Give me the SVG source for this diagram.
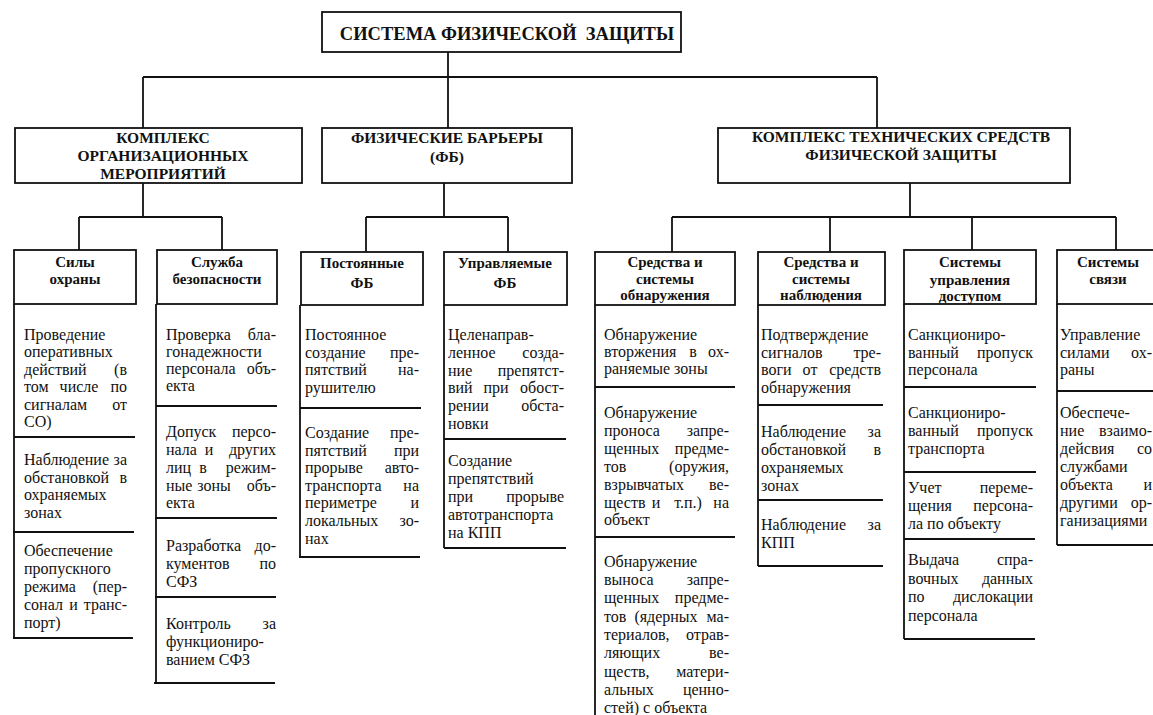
<svg xmlns="http://www.w3.org/2000/svg" width="1153" height="715" viewBox="0 0 1153 715">
<style>
.bx{fill:#fff;stroke:#111;stroke-width:1.8}
.ln{fill:none;stroke:#111;stroke-width:1.8}
.t1{font-family:"Liberation Serif",serif;font-weight:bold;font-size:18.5px;text-anchor:middle;white-space:pre;fill:#111}
.t2{font-family:"Liberation Serif",serif;font-weight:bold;font-size:15.5px;text-anchor:middle;fill:#111}
.t3{font-family:"Liberation Serif",serif;font-weight:bold;font-size:15px;text-anchor:middle;fill:#111}
.b{font-family:"Liberation Serif",serif;font-size:16px;fill:#111}
.e{text-anchor:end}
.m{text-anchor:middle}
</style>
<rect width="1153" height="715" fill="#fff"/>
<g id="connectors" class="ln">
<path d="M448 52V128M143 77H877M143 77V128M877 77V128"/>
<path d="M143 183V217M79 217H222M79 217V250M222 217V250"/>
<path d="M444 183V217M366 217H508M366 217V252M508 217V252"/>
<path d="M910 183V217M672 217H1116M672 217V252M830 217V252M972 217V250M1116 217V250"/>
</g>
<g id="root"><rect class="bx" x="322" y="12" width="359" height="40"/><text class="t1" x="507" y="40">СИСТЕМА ФИЗИЧЕСКОЙ  ЗАЩИТЫ</text></g>
<g id="org"><rect class="bx" x="15" y="128" width="287" height="55"/><text class="t2" x="163" y="143">КОМПЛЕКС</text><text class="t2" x="163" y="161">ОРГАНИЗАЦИОННЫХ</text><text class="t2" x="163" y="179">МЕРОПРИЯТИЙ</text></g>
<g id="fb"><rect class="bx" x="322" y="128" width="250" height="55"/><text class="t2" x="447" y="143">ФИЗИЧЕСКИЕ БАРЬЕРЫ</text><text class="t2" x="447" y="162">(ФБ)</text></g>
<g id="tech"><rect class="bx" x="718" y="128" width="352" height="55"/><text class="t2" x="901" y="142">КОМПЛЕКС ТЕХНИЧЕСКИХ СРЕДСТВ</text><text class="t2" x="901" y="160">ФИЗИЧЕСКОЙ ЗАЩИТЫ</text></g>

<g id="sily">
<rect class="bx" x="14" y="250" width="122" height="54"/>
<text class="t3" x="75" y="267">Силы</text><text class="t3" x="75" y="284">охраны</text>
<path class="ln" d="M14 304V638M14 437H135M13 532H134M13 638H133"/>
<text class="b" x="24" y="340">Проведение</text>
<text class="b" x="24" y="357.4">оперативных</text>
<text class="b" x="24" y="374.8">действий</text><text class="b e" x="127" y="374.8">(в</text>
<text class="b" x="24" y="392.2">том</text><text class="b m" x="79" y="392.2">числе</text><text class="b e" x="127" y="392.2">по</text>
<text class="b" x="24" y="409.6">сигналам</text><text class="b e" x="127" y="409.6">от</text>
<text class="b" x="24" y="427">СО)</text>
<text class="b" x="24" y="465">Наблюдение</text><text class="b e" x="127" y="465">за</text>
<text class="b" x="24" y="482.5">обстановкой</text><text class="b e" x="127" y="482.5">в</text>
<text class="b" x="24" y="500">охраняемых</text>
<text class="b" x="24" y="517.5">зонах</text>
<text class="b" x="24" y="556">Обеспечение</text>
<text class="b" x="24" y="574">пропускного</text>
<text class="b" x="24" y="592">режима</text><text class="b e" x="127" y="592">(пер-</text>
<text class="b" x="24" y="610">сонал</text><text class="b m" x="73.5" y="610">и</text><text class="b e" x="127" y="610">транс-</text>
<text class="b" x="24" y="628">порт)</text>
</g>

<g id="sluzhba">
<rect class="bx" x="157" y="250" width="120" height="54"/>
<text class="t3" x="217" y="267">Служба</text><text class="t3" x="217" y="284">безопасности</text>
<path class="ln" d="M156 304V683M156 406H277M155 518H277M155 597H276M154 683H275"/>
<text class="b" x="166" y="340">Проверка</text><text class="b e" x="276" y="340">бла-</text>
<text class="b" x="166" y="357">гонадежности</text>
<text class="b" x="166" y="374">персонала</text><text class="b e" x="276" y="374">объ-</text>
<text class="b" x="166" y="391">екта</text>
<text class="b" x="166" y="437">Допуск</text><text class="b e" x="276" y="437">персо-</text>
<text class="b" x="166" y="455">нала</text><text class="b m" x="209" y="455">и</text><text class="b e" x="276" y="455">других</text>
<text class="b" x="166" y="473">лиц</text><text class="b m" x="203" y="473">в</text><text class="b e" x="276" y="473">режим-</text>
<text class="b" x="166" y="491">ные</text><text class="b m" x="214" y="491">зоны</text><text class="b e" x="276" y="491">объ-</text>
<text class="b" x="166" y="508">екта</text>
<text class="b" x="166" y="551">Разработка</text><text class="b e" x="276" y="551">до-</text>
<text class="b" x="166" y="569">кументов</text><text class="b e" x="276" y="569">по</text>
<text class="b" x="166" y="587">СФЗ</text>
<text class="b" x="166" y="629">Контроль</text><text class="b e" x="276" y="629">за</text>
<text class="b" x="166" y="647">функциониро-</text>
<text class="b" x="166" y="665">ванием СФЗ</text>
</g>

<g id="postoyannye">
<rect class="bx" x="301" y="252" width="122" height="53"/>
<text class="t3" x="362" y="268">Постоянные</text><text class="t3" x="362" y="288">ФБ</text>
<path class="ln" d="M300 305V557M300 408H421M299 557H420"/>
<text class="b" x="305" y="340">Постоянное</text>
<text class="b" x="305" y="357.5">создание</text><text class="b e" x="419" y="357.5">пре-</text>
<text class="b" x="305" y="375">пятствий</text><text class="b e" x="419" y="375">на-</text>
<text class="b" x="305" y="392.5">рушителю</text>
<text class="b" x="305" y="438">Создание</text><text class="b e" x="419" y="438">пре-</text>
<text class="b" x="305" y="456">пятствий</text><text class="b e" x="419" y="456">при</text>
<text class="b" x="305" y="473">прорыве</text><text class="b e" x="419" y="473">авто-</text>
<text class="b" x="305" y="491">транспорта</text><text class="b e" x="419" y="491">на</text>
<text class="b" x="305" y="508">периметре</text><text class="b e" x="419" y="508">и</text>
<text class="b" x="305" y="526">локальных</text><text class="b e" x="419" y="526">зо-</text>
<text class="b" x="305" y="544">нах</text>
</g>

<g id="upravlyaemye">
<rect class="bx" x="444" y="252" width="123" height="53"/>
<text class="t3" x="505" y="268">Управляемые</text><text class="t3" x="505" y="288">ФБ</text>
<path class="ln" d="M444 305V548M444 439H566M444 548H566"/>
<text class="b" x="448" y="340">Целенаправ-</text>
<text class="b" x="448" y="357.8">ленное</text><text class="b e" x="564" y="357.8">созда-</text>
<text class="b" x="448" y="375.6">ние</text><text class="b e" x="564" y="375.6">препятст-</text>
<text class="b" x="448" y="393.4">вий</text><text class="b m" x="496" y="393.4">при</text><text class="b e" x="564" y="393.4">обост-</text>
<text class="b" x="448" y="411.2">рении</text><text class="b e" x="564" y="411.2">обста-</text>
<text class="b" x="448" y="429">новки</text>
<text class="b" x="448" y="466">Создание</text>
<text class="b" x="448" y="484">препятствий</text>
<text class="b" x="448" y="502">при</text><text class="b e" x="564" y="502">прорыве</text>
<text class="b" x="448" y="520">автотранспорта</text>
<text class="b" x="448" y="538">на КПП</text>
</g>

<g id="obnaruzhenie">
<rect class="bx" x="595" y="252" width="140" height="53"/>
<text class="t3" x="665" y="267">Средства и</text><text class="t3" x="665" y="284">системы</text><text class="t3" x="665" y="300">обнаружения</text>
<path class="ln" d="M595 305V716M595 387H735M595 537H735"/>
<text class="b" x="604" y="340">Обнаружение</text>
<text class="b" x="604" y="357">вторжения</text><text class="b m" x="693" y="357">в</text><text class="b e" x="729" y="357">ох-</text>
<text class="b" x="604" y="374">раняемые зоны</text>
<text class="b" x="604" y="418">Обнаружение</text>
<text class="b" x="604" y="436">проноса</text><text class="b e" x="729" y="436">запре-</text>
<text class="b" x="604" y="454">щенных</text><text class="b e" x="729" y="454">предме-</text>
<text class="b" x="604" y="472">тов</text><text class="b e" x="729" y="472">(оружия,</text>
<text class="b" x="604" y="490">взрывчатых</text><text class="b e" x="729" y="490">ве-</text>
<text class="b" x="604" y="507.5">ществ</text><text class="b m" x="656" y="507.5">и</text><text class="b m" x="688" y="507.5">т.п.)</text><text class="b e" x="729" y="507.5">на</text>
<text class="b" x="604" y="525">объект</text>
<text class="b" x="604" y="567">Обнаружение</text>
<text class="b" x="604" y="585">выноса</text><text class="b e" x="729" y="585">запре-</text>
<text class="b" x="604" y="603">щенных</text><text class="b e" x="729" y="603">предме-</text>
<text class="b" x="604" y="621.5">тов</text><text class="b m" x="666" y="621.5">(ядерных</text><text class="b e" x="729" y="621.5">ма-</text>
<text class="b" x="604" y="640">териалов,</text><text class="b e" x="729" y="640">отрав-</text>
<text class="b" x="604" y="658">ляющих</text><text class="b e" x="729" y="658">ве-</text>
<text class="b" x="604" y="676.5">ществ,</text><text class="b e" x="729" y="676.5">матери-</text>
<text class="b" x="604" y="694.5">альных</text><text class="b e" x="729" y="694.5">ценно-</text>
<text class="b" x="604" y="712.5">стей) с объекта</text>
</g>

<g id="nablyudenie">
<rect class="bx" x="758" y="252" width="127" height="53"/>
<text class="t3" x="821" y="267">Средства и</text><text class="t3" x="821" y="284">системы</text><text class="t3" x="821" y="300">наблюдения</text>
<path class="ln" d="M758 305V566M758 405H883M758 500H883M758 566H883"/>
<text class="b" x="761" y="340">Подтверждение</text>
<text class="b" x="761" y="357.5">сигналов</text><text class="b e" x="881" y="357.5">тре-</text>
<text class="b" x="761" y="375">воги</text><text class="b m" x="810" y="375">от</text><text class="b e" x="881" y="375">средств</text>
<text class="b" x="761" y="392.5">обнаружения</text>
<text class="b" x="761" y="437">Наблюдение</text><text class="b e" x="881" y="437">за</text>
<text class="b" x="761" y="455">обстановкой</text><text class="b e" x="881" y="455">в</text>
<text class="b" x="761" y="473">охраняемых</text>
<text class="b" x="761" y="491">зонах</text>
<text class="b" x="761" y="530">Наблюдение</text><text class="b e" x="881" y="530">за</text>
<text class="b" x="761" y="548">КПП</text>
</g>

<g id="dostup">
<rect class="bx" x="904" y="250" width="132" height="54"/>
<text class="t3" x="970" y="267">Системы</text><text class="t3" x="970" y="285">управления</text><text class="t3" x="970" y="301">доступом</text>
<path class="ln" d="M904 304V639M904 387H1036M904 472H1036M904 539H1035M904 639H1035"/>
<text class="b" x="908" y="340">Санкциониро-</text>
<text class="b" x="908" y="357.5">ванный</text><text class="b e" x="1033" y="357.5">пропуск</text>
<text class="b" x="908" y="375">персонала</text>
<text class="b" x="908" y="418">Санкциониро-</text>
<text class="b" x="908" y="436">ванный</text><text class="b e" x="1033" y="436">пропуск</text>
<text class="b" x="908" y="454">транспорта</text>
<text class="b" x="908" y="493">Учет</text><text class="b e" x="1033" y="493">переме-</text>
<text class="b" x="908" y="511">щения</text><text class="b e" x="1033" y="511">персона-</text>
<text class="b" x="908" y="529">ла по объекту</text>
<text class="b" x="908" y="565">Выдача</text><text class="b e" x="1033" y="565">спра-</text>
<text class="b" x="908" y="583.5">вочных</text><text class="b e" x="1033" y="583.5">данных</text>
<text class="b" x="908" y="602">по</text><text class="b e" x="1033" y="602">дислокации</text>
<text class="b" x="908" y="620.5">персонала</text>
</g>

<g id="svyaz">
<rect class="bx" x="1057" y="250" width="110" height="54"/>
<text class="t3" x="1108" y="267">Системы</text><text class="t3" x="1108" y="284">связи</text>
<path class="ln" d="M1057 304V545M1057 391H1160M1057 545H1160"/>
<text class="b" x="1060" y="340">Управление</text>
<text class="b" x="1060" y="357.5">силами</text><text class="b e" x="1152" y="357.5">ох-</text>
<text class="b" x="1060" y="375">раны</text>
<text class="b" x="1060" y="418">Обеспече-</text>
<text class="b" x="1060" y="436">ние</text><text class="b e" x="1152" y="436">взаимо-</text>
<text class="b" x="1060" y="454">дейсвия</text><text class="b e" x="1152" y="454">со</text>
<text class="b" x="1060" y="472">службами</text>
<text class="b" x="1060" y="490">объекта</text><text class="b e" x="1152" y="490">и</text>
<text class="b" x="1060" y="508">другими</text><text class="b e" x="1152" y="508">ор-</text>
<text class="b" x="1060" y="526">ганизациями</text>
</g>
</svg>
